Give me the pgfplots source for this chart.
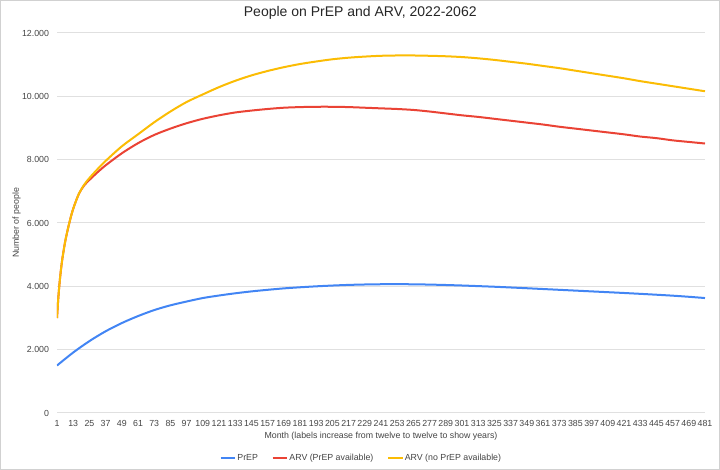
\documentclass[border=0pt]{standalone}
\usepackage{pgfplots}
\pgfplotsset{compat=1.18}
\usepackage{pgfplotstable}
\usepackage{fontspec}
\setmainfont{Liberation Sans}
\definecolor{cblue}{HTML}{4285F4}
\definecolor{cred}{HTML}{EA4335}
\definecolor{cyellow}{HTML}{FBBC04}
\definecolor{ctext}{HTML}{444444}

\pgfplotstableread{
m v
1 1500
13 1910
25 2270
37 2580
49 2840
61 3060
73 3250
85 3400
97 3520
109 3630
121 3710
133 3780
145 3840
157 3890
169 3935
181 3970
193 4000
205 4025
217 4045
229 4058
241 4066
253 4068
265 4064
277 4055
289 4042
301 4026
313 4007
325 3987
337 3964
349 3940
361 3915
373 3890
385 3865
397 3840
409 3815
421 3790
433 3763
445 3735
457 3705
469 3670
481 3630
}\prep

\pgfplotstableread{
m v
1 3000
2 3650
3 4150
4 4550
5 4880
7 5400
9 5800
11 6150
13 6450
17 6900
21 7180
25 7360
31 7600
37 7820
49 8200
61 8520
73 8780
85 8980
97 9150
109 9290
121 9400
133 9490
145 9550
157 9600
169 9640
181 9660
193 9670
205 9670
217 9660
229 9640
241 9620
253 9600
265 9570
277 9520
289 9460
301 9400
313 9350
325 9290
337 9230
349 9170
361 9110
373 9040
385 8980
397 8920
409 8860
421 8800
433 8730
445 8680
457 8610
469 8560
481 8510
}\arvyes

\pgfplotstableread{
m v
1 3000
2 3650
3 4150
4 4550
5 4880
7 5400
9 5800
11 6150
13 6450
17 6900
21 7200
25 7420
31 7700
37 7960
49 8420
61 8800
73 9180
85 9520
97 9820
109 10060
121 10290
133 10490
145 10660
157 10800
169 10920
181 11020
193 11100
205 11170
217 11220
229 11255
241 11280
253 11290
265 11290
277 11280
289 11265
301 11240
313 11200
325 11150
337 11090
349 11030
361 10960
373 10890
385 10810
397 10730
409 10650
421 10570
433 10480
445 10400
457 10320
469 10240
481 10160
}\arvno

\begin{document}
\begin{tikzpicture}
\useasboundingbox (0,0) rectangle (540pt,352.5pt);
\draw[black!18, line width=0.75pt] (0.375pt,0.375pt) rectangle (539.625pt,352.125pt);
\begin{axis}[
  at={(42.75pt,42.75pt)}, anchor=south west,
  scale only axis, width=486pt, height=285pt,
  xmin=1, xmax=481, ymin=0, ymax=12000,
  xtick={1,13,...,481},
  ytick={0,2000,...,12000},
  scaled y ticks=false,
  /pgf/number format/assume math mode=true,
  /pgf/number format/fixed,
  /pgf/number format/1000 sep={.},
  major tick length=0pt,
  axis line style={draw=none},
  ymajorgrids, grid style={black!12, line width=0.75pt},
  tick label style={font=\fontsize{6.6}{7}\selectfont, text=ctext},
  yticklabel style={anchor=east, inner sep=0pt, xshift=-5.8pt},
  xticklabel style={anchor=center, inner sep=0pt, yshift=-8pt},
  every axis title shift=0pt,
  title={People on PrEP and ARV, 2022-2062},
  title style={at={(axis description cs:0.468,1.052)}, anchor=center, font=\fontsize{10.5}{12}\selectfont, text=black!85},
  xlabel={Month (labels increase from twelve to twelve to show years)},
  xlabel style={at={(axis description cs:0.5,-0.0605)}, anchor=center, font=\fontsize{6.6}{7}\selectfont, text=ctext},
  ylabel={Number of people},
  ylabel style={at={(axis description cs:-0.0625,0.5)}, anchor=center, font=\fontsize{6.6}{7}\selectfont, text=ctext},
  legend style={at={(axis description cs:0.469,-0.119)}, anchor=center, draw=none, fill=none,
    font=\fontsize{6.6}{7}\selectfont, text=ctext, legend columns=3,
    /tikz/every odd column/.append style={column sep=0pt},
    /tikz/every even column/.append style={column sep=9.5pt},
    nodes={inner sep=0.8pt}},
  legend image code/.code={\draw[#1, line width=1.5pt] (0pt,0pt) -- (11pt,0pt);},
  every axis plot/.append style={line width=1.5pt, no markers, smooth, tension=0.5},
]
\draw[black!25, line width=2.2pt, dash pattern=on 0.45pt off 0.55pt] ([yshift=-1.1pt]rel axis cs:0,0) -- ([yshift=-1.1pt]rel axis cs:1,0);
\addplot[cblue] table[x=m, y=v] {\prep};
\addlegendentry{PrEP}
\addplot[cred] table[x=m, y=v] {\arvyes};
\addlegendentry{ARV (PrEP available)}
\addplot[cyellow] table[x=m, y=v] {\arvno};
\addlegendentry{ARV (no PrEP available)}
\end{axis}
\end{tikzpicture}
\end{document}
